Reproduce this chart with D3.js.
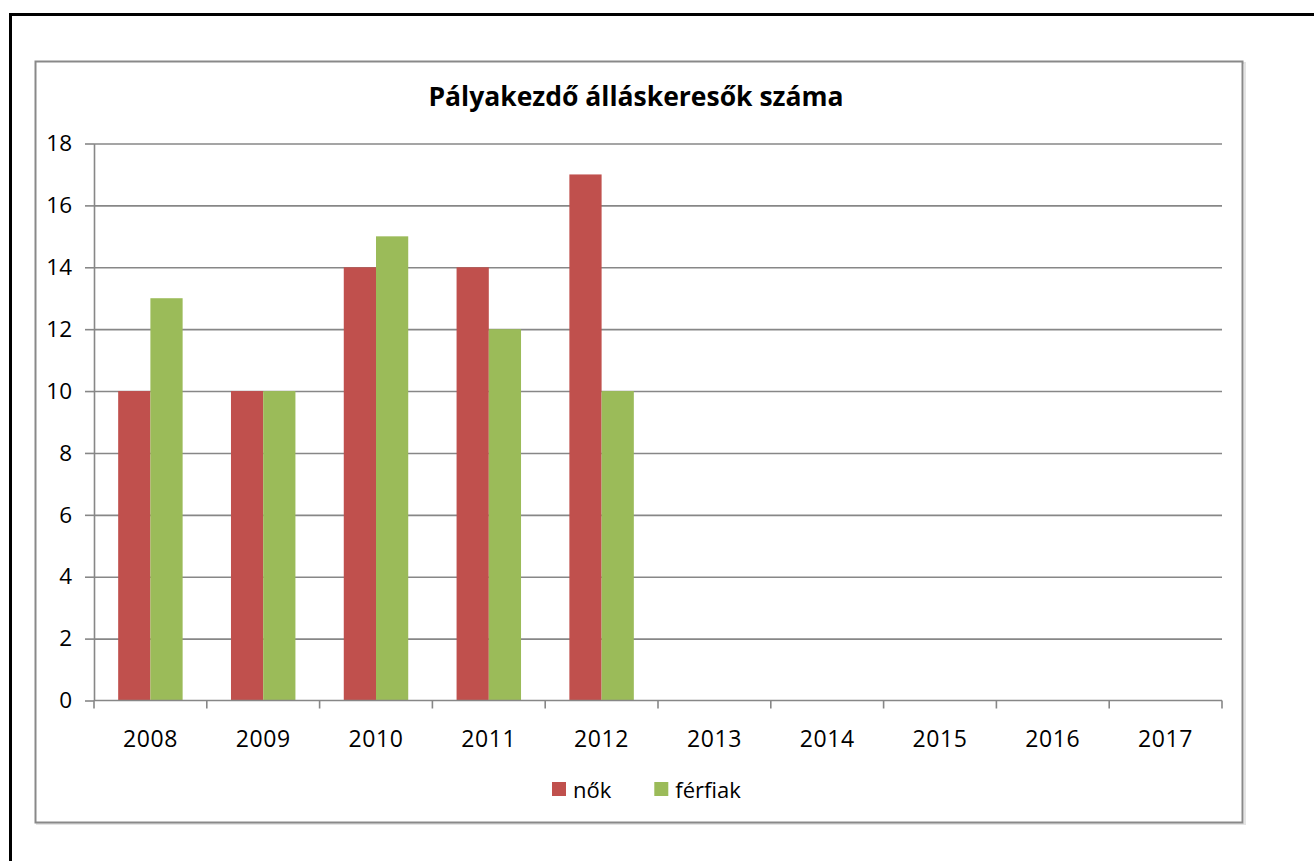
<!DOCTYPE html>
<html>
<head>
<meta charset="utf-8">
<script src="https://cdn.jsdelivr.net/npm/d3@7"></script>
<style>
  body { margin: 0; background: #fff; }
  text { font-family: "Open Sans", "Noto Sans", sans-serif; fill: #000; }
</style>
</head>
<body>
<svg id="chart"></svg>
<script>
const years = ['2008', '2009', '2010', '2011', '2012', '2013', '2014', '2015', '2016', '2017'];
const seriesNames = ['nők', 'férfiak'];
const nok = [10, 10, 14, 14, 17, null, null, null, null, null];
const ferfiak = [13, 10, 15, 12, 10, null, null, null, null, null];
const yTicks = [0, 2, 4, 6, 8, 10, 12, 14, 16, 18];
const colors = ['#C0504D', '#9BBB59'];
const title = 'Pályakezdő álláskeresők száma';

const width = 1314, height = 861;
const svg = d3.select('#chart')
    .attr('width', width)
    .attr('height', height)
    .attr('viewBox', `0 0 ${width} ${height}`);

// outer black frame (runs off the right and bottom edges)
svg.append('rect')
  .attr('x', 10.5).attr('y', 14.5)
  .attr('width', width + 20).attr('height', height + 20)
  .attr('fill', 'none')
  .attr('stroke', '#000')
  .attr('stroke-width', 3);

// chart area box with a faint shadow
svg.append('rect')
  .attr('x', 37).attr('y', 63)
  .attr('width', 1208).attr('height', 761)
  .attr('fill', 'none')
  .attr('stroke', '#e4e4e4')
  .attr('stroke-width', 2);
svg.append('rect')
  .attr('x', 35.5).attr('y', 61.5)
  .attr('width', 1207).attr('height', 761)
  .attr('fill', '#fff')
  .attr('stroke', '#898989')
  .attr('stroke-width', 2);

svg.append('text')
  .attr('x', 636)
  .attr('y', 106)
  .attr('text-anchor', 'middle')
  .attr('font-size', 26.5)
  .attr('font-weight', 'bold')
  .text(title);

const plotLeft = 94, plotRight = 1222, plotTop = 143.5, plotBottom = 700.5;

const xScale = d3.scaleBand()
  .domain(years)
  .range([plotLeft, plotRight])
  .padding(0);

const xInner = d3.scaleBand()
  .domain(seriesNames)
  .range([0, xScale.bandwidth()])
  .paddingInner(0)
  .paddingOuter(0.75);

const yScale = d3.scaleLinear()
  .domain([0, 18])
  .range([plotBottom, plotTop]);

// gridlines
svg.append('g')
  .attr('transform', `translate(${plotLeft}, 0)`)
  .call(d3.axisLeft(yScale)
    .tickValues(yTicks.slice(1))
    .tickSize(-(plotRight - plotLeft))
    .tickFormat(''))
  .call(g => g.select('.domain').remove())
  .call(g => g.selectAll('line').attr('stroke', '#878787').attr('stroke-width', 1.6));

// y axis
svg.append('g')
  .attr('transform', `translate(${plotLeft}, 0)`)
  .call(d3.axisLeft(yScale)
    .tickValues(yTicks)
    .tickSize(9)
    .tickPadding(13)
    .tickSizeOuter(0))
  .call(g => g.select('.domain').attr('stroke', '#878787').attr('stroke-width', 1.6))
  .call(g => g.selectAll('line').attr('stroke', '#878787').attr('stroke-width', 1.6))
  .call(g => g.selectAll('text')
    .attr('font-size', 22.5)
    .attr('font-family', '"Open Sans", sans-serif')
    .attr('fill', '#000'));

// bars
const rows = years.map((y, i) => ({ year: y, values: [nok[i], ferfiak[i]] }));
const groups = svg.selectAll('.year')
  .data(rows)
  .enter()
  .append('g')
  .attr('transform', d => `translate(${xScale(d.year)}, 0)`);

groups.selectAll('rect')
  .data(d => d.values.map((v, j) => ({ name: seriesNames[j], value: v, color: colors[j] })).filter(d => d.value != null))
  .enter()
  .append('rect')
  .attr('x', d => xInner(d.name))
  .attr('width', xInner.bandwidth())
  .attr('y', d => yScale(d.value))
  .attr('height', d => yScale(0) - yScale(d.value))
  .attr('fill', d => d.color);

// x axis: line + ticks at category boundaries
const xAxis = svg.append('g');
xAxis.append('line')
  .attr('x1', plotLeft).attr('x2', plotRight)
  .attr('y1', plotBottom).attr('y2', plotBottom)
  .attr('stroke', '#878787').attr('stroke-width', 1.6);
xAxis.selectAll('.bt')
  .data(years.concat(['end']))
  .enter()
  .append('line')
  .attr('x1', d => d === 'end' ? plotRight : xScale(d))
  .attr('x2', d => d === 'end' ? plotRight : xScale(d))
  .attr('y1', plotBottom).attr('y2', plotBottom + 8)
  .attr('stroke', '#878787').attr('stroke-width', 1.6);
xAxis.selectAll('.lbl')
  .data(years)
  .enter()
  .append('text')
  .attr('x', d => xScale(d) + xScale.bandwidth() / 2)
  .attr('y', 747)
  .attr('text-anchor', 'middle')
  .attr('font-size', 23)
  .attr('letter-spacing', 0.6)
  .text(d => d);

// legend
const legend = svg.append('g').attr('transform', 'translate(552, 782)');
let lx = 0;
seriesNames.forEach((name, i) => {
  const item = legend.append('g').attr('transform', `translate(${lx}, 0)`);
  item.append('rect')
    .attr('width', 14).attr('height', 14)
    .attr('fill', colors[i]);
  const t = item.append('text')
    .attr('x', 21).attr('y', 16)
    .attr('font-size', 22)
    .text(name);
  lx += 21 + t.node().getComputedTextLength() + 43;
});
</script>
</body>
</html>
